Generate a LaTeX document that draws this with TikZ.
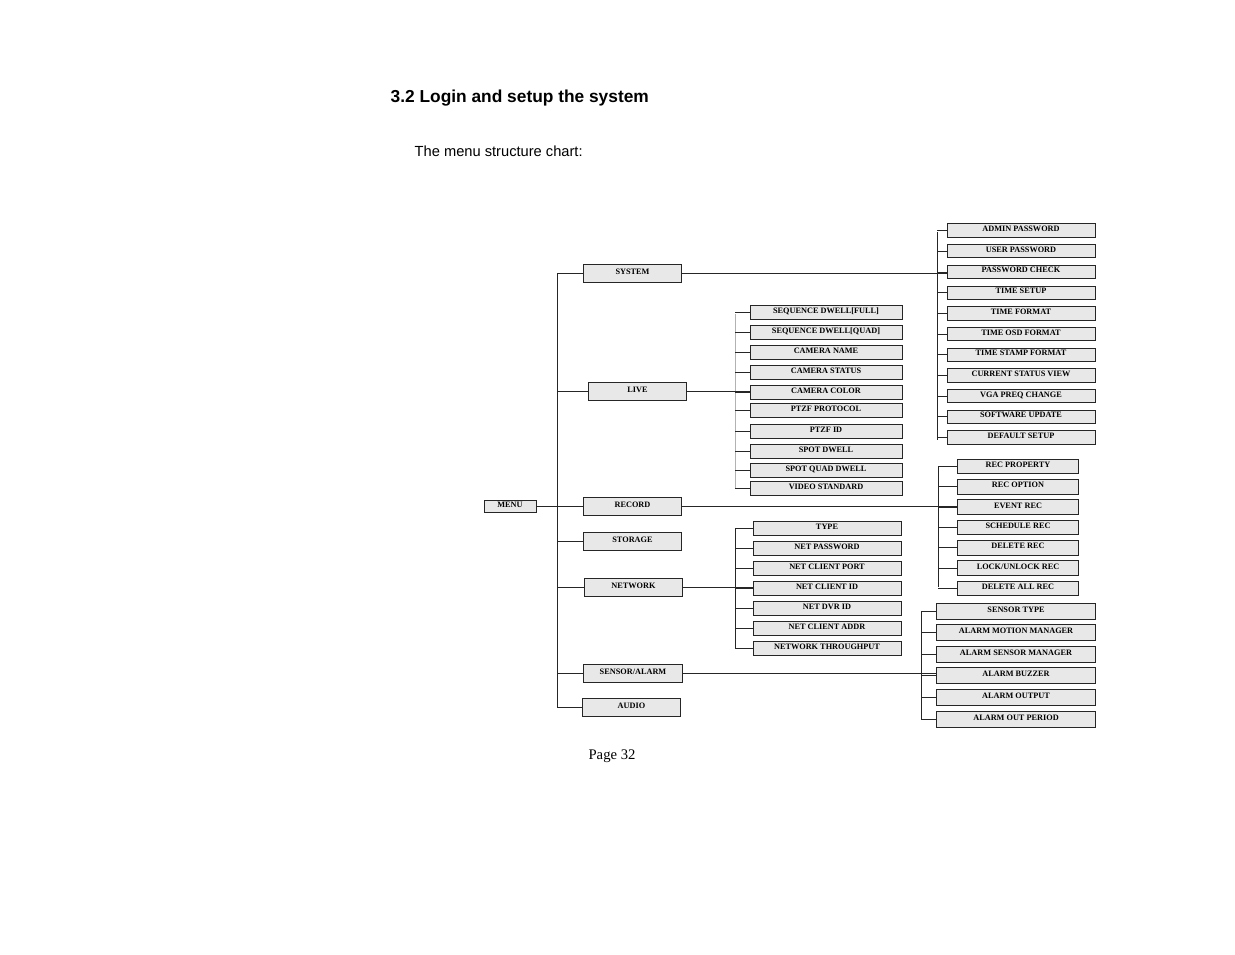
\documentclass[tikz,border=0pt]{standalone}
\usepackage{fontspec}
\setmainfont{Liberation Serif}
\newfontfamily\headfont{Liberation Sans}
\tikzset{
  menubox/.style={draw=black!85,fill=black!9,line width=0.6pt,inner sep=0pt,
    font=\bfseries\fontsize{6.2}{7}\selectfont,text depth=2.5pt},
  link/.style={draw=black!85,line width=0.6pt}
}
\begin{document}
\begin{tikzpicture}[x=0.75pt,y=-0.75pt]
  \useasboundingbox (0,0) rectangle (1235,954);
  % headings
  \node[anchor=west,font=\headfont\bfseries\fontsize{13}{15}\selectfont] at (386,98) {3.2 Login and setup the system};
  \node[anchor=west,font=\headfont\fontsize{11}{13}\selectfont] at (410,151) {The menu structure chart:};
  \node[font=\fontsize{11}{13}\selectfont] at (612,756) {Page 32};
  % root and first level
  \node[menubox,minimum width=39pt,minimum height=8.5pt] (menu) at (510,506.5) {MENU};
  \foreach \name/\txt/\px/\py in {system/SYSTEM/632.5/273,live/LIVE/637.5/391,
      record/RECORD/632.5/506,storage/STORAGE/632.5/541.5,network/NETWORK/633.5/587,
      sensor/{SENSOR/ALARM}/633/673,audio/AUDIO/631.5/707.5}
    \node[menubox,minimum width=74pt,minimum height=13.5pt] (\name) at (\px,\py) {\txt};
  \coordinate (trunkt) at (557,273);
  \coordinate (trunkb) at (557,707.5);
  \draw[link] (trunkt) -- (trunkb);
  \draw[link] (menu.east) -- (menu.east -| trunkt);
  \foreach \name in {system,live,record,storage,network,sensor,audio}
    \draw[link] (\name.west -| trunkt) -- (\name.west);
  % system branch
  \coordinate (sysbus) at (937,232);
  \draw[link] (sysbus) -- (937,440);
  \draw[link] (system.east) -- (system.east -| 947,0);
  \foreach \txt [count=\i] in {ADMIN PASSWORD,USER PASSWORD,PASSWORD CHECK,TIME SETUP,
      TIME FORMAT,TIME OSD FORMAT,TIME STAMP FORMAT,CURRENT STATUS VIEW,VGA PREQ CHANGE,
      SOFTWARE UPDATE,DEFAULT SETUP}{
    \node[menubox,minimum width=111pt,minimum height=10pt] (sys\i) at (1021,{224+(\i-1)*20.7+6.5}) {\txt};
    \draw[link] (sys\i.west -| sysbus) -- (sys\i.west);
  }
  % live branch
  \coordinate (livebus) at (735,314);
  \draw[draw=black!30,line width=0.6pt] (livebus) -- (735,489);
  \draw[link] (live.east) -- (live.east -| 750,0);
  \foreach \txt/\t [count=\i] in {SEQUENCE DWELL[FULL]/305,SEQUENCE DWELL[QUAD]/325,
      CAMERA NAME/345,CAMERA STATUS/365,CAMERA COLOR/385,PTZF PROTOCOL/403,PTZF ID/424,
      SPOT DWELL/444,SPOT QUAD DWELL/463,VIDEO STANDARD/481}{
    \node[menubox,minimum width=114pt,minimum height=10.5pt] (live\i) at (826,\t+7) {\txt};
    \draw[link] (live\i.west -| livebus) -- (live\i.west);
  }
  % record branch
  \coordinate (recbus) at (938,466);
  \draw[link] (recbus) -- (938,587);
  \draw[link] (record.east) -- (record.east -| 957,0);
  \foreach \txt [count=\i] in {REC PROPERTY,REC OPTION,EVENT REC,SCHEDULE REC,
      DELETE REC,LOCK/UNLOCK REC,DELETE ALL REC}{
    \node[menubox,minimum width=91pt,minimum height=11pt] (rec\i) at (1018,{459+(\i-1)*20.3+7.5}) {\txt};
    \draw[link] (rec\i.west -| recbus) -- (rec\i.west);
  }
  % network branch
  \coordinate (netbus) at (735,529);
  \draw[link] (netbus) -- (735,648);
  \draw[link] (network.east) -- (network.east -| 753,0);
  \foreach \txt [count=\i] in {TYPE,NET PASSWORD,NET CLIENT PORT,NET CLIENT ID,
      NET DVR ID,NET CLIENT ADDR,NETWORK THROUGHPUT}{
    \node[menubox,minimum width=111pt,minimum height=11pt] (net\i) at (827,{521+(\i-1)*20+7.5}) {\txt};
    \draw[link] (net\i.west -| netbus) -- (net\i.west);
  }
  % sensor branch
  \coordinate (senbus) at (921,611);
  \draw[link] (senbus) -- (921,719);
  \draw[link] (sensor.east) -- (sensor.east -| 936,0);
  \foreach \txt [count=\i] in {SENSOR TYPE,ALARM MOTION MANAGER,ALARM SENSOR MANAGER,
      ALARM BUZZER,ALARM OUTPUT,ALARM OUT PERIOD}{
    \node[menubox,minimum width=119pt,minimum height=12pt] (sen\i) at (1016,{603+(\i-1)*21.6+8}) {\txt};
    \draw[link] (sen\i.west -| senbus) -- (sen\i.west);
  }
\end{tikzpicture}
\end{document}
